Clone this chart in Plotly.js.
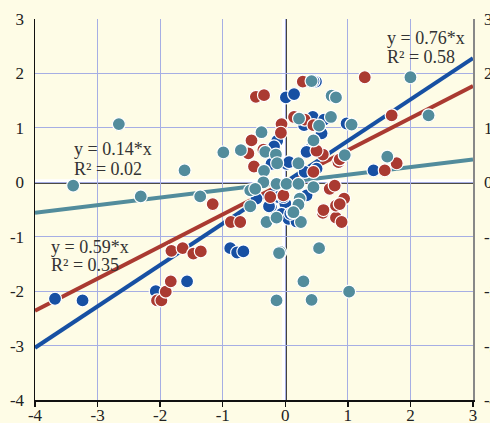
<!DOCTYPE html>
<html>
<head>
<meta charset="utf-8">
<script src="https://cdn.plot.ly/plotly-3.0.1.min.js"></script>
<style>html,body{margin:0;padding:0;background:#fefce6;}#chart{width:490px;height:423px;}</style>
</head>
<body>
<div id="chart"></div>
<script>
// Series 1 (blue)
const blueX = [-3.68,-3.24,-2.07,-1.57,-0.88,-0.77,-0.67,-0.23,-0.11,0.00,-0.06,0.05,0.18,0.34,0.31,0.50,0.02,-0.22,-0.46,0.01,0.14,0.49,0.44,0.30,0.62,0.58,0.98,-0.13,-0.18,0.37,0.06,1.41,0.34,0.08,-0.26,0.45,-0.03];
const blueY = [-2.14,-2.17,-2.00,-1.82,-1.21,-1.29,-1.27,-0.46,-0.27,-0.39,-0.58,-0.67,-0.72,-0.24,0.19,0.25,0.34,0.34,-0.30,1.56,1.62,1.85,1.20,1.05,1.15,0.90,1.08,0.76,0.66,0.59,0.37,0.22,0.56,-0.58,-0.44,1.86,-0.27];
// Series 2 (red)
const redX = [-2.05,-1.98,-1.91,-1.83,-1.82,-1.64,-1.47,-1.35,-0.87,-0.72,-1.16,0.60,0.81,0.90,-0.24,-0.03,0.45,0.71,0.79,0.94,0.81,0.87,0.85,0.28,-0.47,-0.34,0.14,0.31,0.45,-0.06,-0.07,-0.54,-0.59,-0.50,0.60,0.50,1.27,1.70,1.78,1.59,0.87,-0.35,0.61];
const redY = [-2.17,-2.17,-2.01,-1.82,-1.26,-1.21,-1.31,-1.27,-0.73,-0.73,-0.40,-0.56,-0.65,-0.73,-0.27,-0.24,0.19,-0.12,-0.06,-0.30,-0.43,-0.40,0.37,1.85,1.57,1.60,1.20,1.15,1.05,1.07,0.91,0.77,0.53,0.29,0.51,0.58,1.93,1.23,0.35,0.22,0.42,0.60,-0.51];
// Series 3 (teal)
const tealX = [-3.39,-2.66,-2.31,-1.61,-1.36,-0.99,-0.71,-0.30,-0.14,0.25,0.12,-0.08,-0.10,0.54,0.29,1.02,-0.14,0.42,0.42,2.00,2.29,0.74,0.81,0.22,0.54,0.73,1.06,-0.38,0.45,0.95,1.63,-0.32,-0.15,-0.13,0.21,-0.34,-0.35,-0.14,0.02,0.21,0.45,-0.56,-0.48,0.23,0.21,-0.56,0.13];
const tealY = [-0.06,1.07,-0.26,0.22,-0.26,0.55,0.59,-0.73,-0.65,-0.73,-0.56,-1.28,-1.30,-1.21,-1.82,-2.01,-2.17,-2.16,1.86,1.93,1.23,1.59,1.56,1.17,1.04,1.20,1.06,0.92,0.77,0.50,0.47,0.56,0.51,0.35,0.35,0.21,0.00,-0.03,-0.03,-0.03,-0.09,-0.15,-0.12,-0.30,-0.41,-0.44,-0.55];
// Regression slopes (through origin)
const slopes = {blue:0.76, red:0.59, teal:0.14};
const lineX = [-4, 3];
const ticks = [-4,-3,-2,-1,0,1,2,3];

const colors = {blue:'#1750a3', red:'#aa3a31', teal:'#528c9c'};
const serif = 'Liberation Serif, Times New Roman, serif';

function fitLine(key){
  return {x: lineX, y: lineX.map(v => v*slopes[key]), mode:'lines', type:'scatter',
    line:{color:colors[key], width:4}, hoverinfo:'skip', showlegend:false};
}
function pts(xs, ys, key){
  return {x: xs, y: ys, mode:'markers', type:'scatter', showlegend:false,
    marker:{size:13, color:colors[key], line:{color:'#ffffff', width:1.2}}};
}

const data = [
  fitLine('teal'), fitLine('red'), fitLine('blue'),
  pts(blueX, blueY, 'blue'), pts(redX, redY, 'red'), pts(tealX, tealY, 'teal'),
  {x:[0], y:[0], yaxis:'y2', mode:'markers', marker:{opacity:0}, hoverinfo:'skip', showlegend:false}
];

const ann = (x, y, t) => ({x:x, y:y, xref:'x', yref:'y', text:t, showarrow:false,
  xanchor:'left', yanchor:'middle', font:{family:serif, size:18, color:'#333333'}});

const layout = {
  width:490, height:423,
  margin:{l:35, r:17, t:19, b:23, pad:0},
  paper_bgcolor:'#fefce6', plot_bgcolor:'#fefce6',
  font:{family:serif, size:17, color:'#222222'},
  xaxis:{range:[-4,3], tickvals:ticks, ticktext:ticks.map(String), showgrid:true, gridcolor:'#a6aee4', gridwidth:1,
    zeroline:false, showline:true, linecolor:'#111111', linewidth:1.5, ticks:'outside', ticklen:5, tickwidth:1.5, tickcolor:'#111111',
    ticklabelstandoff:-6,
    tickfont:{family:serif, size:17, color:'#222222'}, fixedrange:true},
  yaxis:{range:[-4,3], tickvals:ticks, ticktext:ticks.map(String), showgrid:true, gridcolor:'#a6aee4', gridwidth:1,
    zeroline:false, showline:true, linecolor:'#111111', linewidth:1.5, ticks:'', ticklabelstandoff:6,
    tickfont:{family:serif, size:17, color:'#222222'}, fixedrange:true},
  yaxis2:{range:[-4,3], tickvals:ticks, ticktext:ticks.map(String), overlaying:'y', side:'right', showgrid:false,
    zeroline:false, showline:true, linecolor:'#888888', linewidth:1.5, ticks:'', ticklabelstandoff:6,
    tickfont:{family:serif, size:17, color:'#222222'}, fixedrange:true},
  shapes:[
    {type:'line', xref:'x', yref:'y', x0:-4, x1:3, y0:0.03, y1:0.03, layer:'below', line:{color:'#ffffff', width:3}},
    {type:'line', xref:'x', yref:'y', x0:-4, x1:3, y0:-0.015, y1:-0.015, layer:'below', line:{color:'#111111', width:1.5}},
    {type:'line', xref:'x', yref:'y', x0:-0.03, x1:-0.03, y0:-4, y1:3, layer:'below', line:{color:'#ffffff', width:3}},
    {type:'line', xref:'x', yref:'y', x0:0.012, x1:0.012, y0:-4, y1:3, layer:'below', line:{color:'#111111', width:1.5}}
  ],
  annotations:[
    ann(-3.41, 0.61, 'y = 0.14*x'), ann(-3.41, 0.24, 'R² = 0.02'),
    ann(1.59, 2.66, 'y = 0.76*x'), ann(1.59, 2.30, 'R² = 0.58'),
    ann(-3.77, -1.18, 'y = 0.59*x'), ann(-3.77, -1.52, 'R² = 0.35')
  ]
};

Plotly.newPlot('chart', data, layout, {displayModeBar:false, staticPlot:true});
</script>
</body>
</html>
